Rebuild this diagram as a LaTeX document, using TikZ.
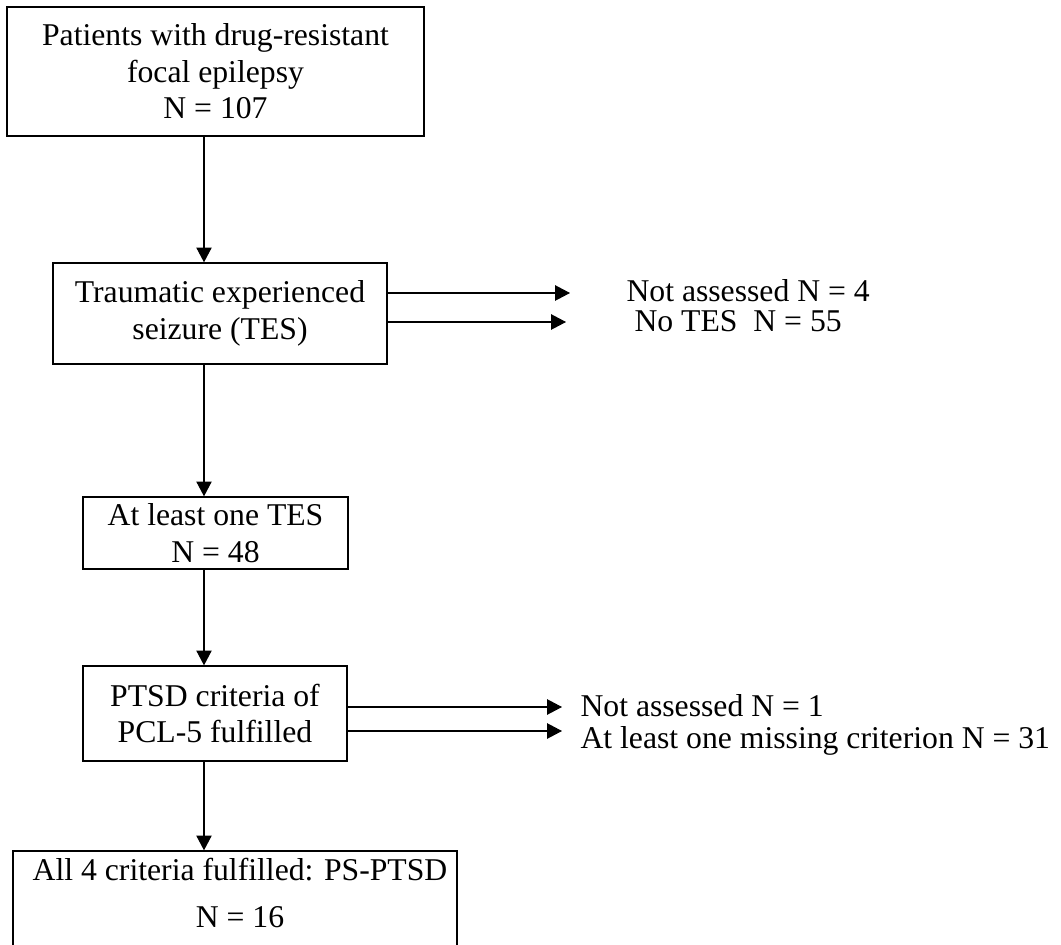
\documentclass[tikz,border=0pt]{standalone}
\usepackage{fontspec}
\setmainfont{Liberation Serif}
\usetikzlibrary{arrows.meta}
\newcommand{\px}{0.0133cm}
\begin{document}
\begin{tikzpicture}[x=\px, y=-\px,
		box/.style={draw, line width=0.5pt, inner sep=0pt, align=center},
		txt/.style={inner sep=0pt, anchor=base west},
		link/.style={line width=0.4pt, -{Triangle[length=5.6pt, width=5.8pt]}},
		font=\fontsize{12}{13.8}\selectfont]
		 	\useasboundingbox (0, 0) rectangle (1061, 945);
		 	\coordinate (spine) at (204, 0);

		 	\node[box, minimum width=417*\px, minimum height=129*\px] (patients) at (215.5, 71.5) {Patients with drug-resistant\\ focal epilepsy\\ N = 107};
		 	\node[box, minimum width=334*\px, minimum height=101*\px] (tes) at (220, 313.5) {Traumatic experienced\\ seizure (TES)};
		 	\node[box, minimum width=265*\px, minimum height=72*\px] (onetes) at (215.5, 533) {At least one TES\\ N = 48};
		 	\node[box, minimum width=264*\px, minimum height=95*\px] (pcl) at (215, 713.5) {PTSD criteria of\\ PCL-5 fulfilled};
		 	\node[box, minimum width=444*\px, minimum height=97*\px] (psptsd) at (235, 899.5) {};
		 	\node[inner sep=0pt, anchor=north, align=center, font=\fontsize{12}{17.8}\selectfont] (psptsdtext) at (240, 858) {All 4 criteria fulfilled: PS-PTSD\\ N = 16};

		 	\draw[link] (patients.south -| spine) -- (tes.north -| spine);
		 	\draw[link] (tes.south -| spine) -- (onetes.north -| spine);
		 	\draw[link] (onetes.south -| spine) -- (pcl.north -| spine);
		 	\draw[link] (pcl.south -| spine) -- (psptsd.north -| spine);

		 	\coordinate (tip1) at (570, 293);
		 	\coordinate (tip2) at (566, 322);
		 	\node[txt] (notassessed1) at (626, 302) {Not assessed N = 4};
		 	\node[txt] (notes) at (634, 332) {No TES\ \ N = 55};
		 		\draw[link] (tes.east |- tip1) -- (tip1);
		 		\draw[link] (tes.east |- tip2) -- (tip2);

		 	\coordinate (tip3) at (562, 707);
		 	\coordinate (tip4) at (562, 731);
		 	\node[txt] (notassessed2) at (580, 716) {Not assessed N = 1};
		 	\node[txt] (missing) at (580, 748) {At least one missing criterion N = 31};
		 		\draw[link] (pcl.east |- tip3) -- (tip3);
		 		\draw[link] (pcl.east |- tip4) -- (tip4);
\end{tikzpicture}
\end{document}
